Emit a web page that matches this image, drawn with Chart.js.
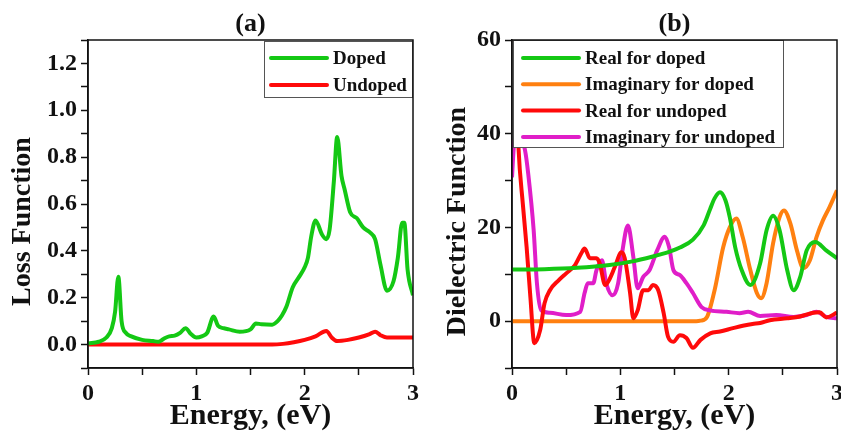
<!DOCTYPE html>
<html>
<head>
<meta charset="utf-8">
<title>Loss and dielectric function</title>
<script src="https://cdn.jsdelivr.net/npm/chart.js@4.4.1/dist/chart.umd.min.js"></script>
<style>
  html, body { margin: 0; padding: 0; background: #fff; }
  .wrap { position: relative; width: 841px; height: 434px; }
  canvas { position: absolute; top: 0; }
  #lossChart { left: 0; }
  #dielChart { left: 420px; }
</style>
</head>
<body>
<div class="wrap">
  <canvas id="lossChart" width="420" height="434"></canvas>
  <canvas id="dielChart" width="421" height="434"></canvas>
</div>
<script>
// (a) loss function
const lossDopedX = [0, 0.1, 0.17, 0.22, 0.25, 0.28, 0.31, 0.35, 0.4, 0.5, 0.6, 0.65, 0.7, 0.75, 0.8, 0.85, 0.9, 0.95, 1.0, 1.05, 1.1, 1.16, 1.2, 1.25, 1.3, 1.4, 1.5, 1.55, 1.6, 1.7, 1.75, 1.79, 1.83, 1.89, 1.95, 2.0, 2.03, 2.06, 2.1, 2.16, 2.2, 2.23, 2.27, 2.3, 2.34, 2.37, 2.42, 2.48, 2.54, 2.6, 2.65, 2.7, 2.76, 2.82, 2.86, 2.9, 2.92, 2.95, 3.0];
const lossDoped = [0.005, 0.012, 0.03, 0.07, 0.14, 0.29, 0.1, 0.05, 0.035, 0.02, 0.015, 0.012, 0.025, 0.035, 0.038, 0.05, 0.07, 0.045, 0.03, 0.035, 0.05, 0.12, 0.08, 0.07, 0.065, 0.055, 0.065, 0.09, 0.087, 0.085, 0.1, 0.124, 0.16, 0.245, 0.29, 0.33, 0.37, 0.46, 0.53, 0.47, 0.45, 0.49, 0.7, 0.886, 0.72, 0.66, 0.565, 0.54, 0.5, 0.48, 0.45, 0.34, 0.23, 0.27, 0.37, 0.52, 0.52, 0.32, 0.21];
const lossUndopedX = [0, 1.0, 1.7, 1.8, 1.9, 2.0, 2.1, 2.2, 2.25, 2.3, 2.4, 2.5, 2.6, 2.65, 2.7, 2.76, 2.85, 3.0];
const lossUndoped = [0, 0, 0, 0.003, 0.01, 0.02, 0.035, 0.058, 0.03, 0.015, 0.02, 0.03, 0.045, 0.055, 0.04, 0.03, 0.03, 0.03];

// (b) dielectric function
const realDopedX = [0, 0.3, 0.6, 0.9, 1.1, 1.3, 1.45, 1.55, 1.67, 1.77, 1.83, 1.87, 1.92, 1.97, 2.01, 2.06, 2.12, 2.2, 2.29, 2.35, 2.41, 2.47, 2.54, 2.6, 2.66, 2.72, 2.8, 2.9, 3.0];
const realDoped = [11.0, 11.1, 11.4, 12.0, 12.7, 13.8, 14.8, 15.7, 17.4, 20.5, 24.0, 26.2, 27.5, 25.8, 22.2, 15.8, 10.9, 7.7, 12.3, 19.4, 22.5, 19.4, 10.9, 6.6, 9.4, 15.1, 16.9, 15.1, 13.4];
const imagDopedX = [0, 1.0, 1.7, 1.74, 1.8, 1.87, 1.95, 2.01, 2.07, 2.13, 2.2, 2.26, 2.3, 2.35, 2.41, 2.47, 2.51, 2.57, 2.63, 2.69, 2.75, 2.81, 2.87, 2.93, 3.0];
const imagDoped = [0, 0, 0, 0.1, 0.9, 6.6, 15.8, 20, 21.9, 17.9, 10.9, 6.0, 4.9, 8.1, 16.6, 22.2, 23.6, 20.8, 15.1, 11.3, 13, 17.9, 21.5, 24.3, 27.9];
const realUndopedX = [0, 0.03, 0.06, 0.1, 0.135, 0.17, 0.206, 0.26, 0.3, 0.35, 0.43, 0.5, 0.58, 0.64, 0.67, 0.72, 0.78, 0.81, 0.86, 0.89, 0.95, 1.01, 1.04, 1.09, 1.12, 1.16, 1.21, 1.26, 1.3, 1.35, 1.4, 1.44, 1.49, 1.55, 1.61, 1.67, 1.74, 1.83, 1.92, 2.04, 2.13, 2.22, 2.29, 2.38, 2.54, 2.66, 2.78, 2.84, 2.9, 3.0];
const realUndoped = [75, 58, 37, 25, 15.8, 5, -4.7, -1.9, 3.8, 6.6, 8.7, 10.2, 11.9, 14.5, 15.5, 13.4, 13.4, 12.3, 7.7, 8.5, 11.6, 14.7, 13.5, 6, 0.6, 2.3, 6.6, 6.6, 7.7, 6.6, 1.7, -3.3, -4.4, -3, -3.6, -5.7, -4, -2.6, -2.2, -1.5, -1, -0.6, -0.4, 0.2, 0.6, 1.0, 1.8, 1.9, 0.8, 1.8];
const imagUndopedX = [0, 0.02, 0.06, 0.12, 0.15, 0.2, 0.23, 0.27, 0.35, 0.5, 0.63, 0.67, 0.7, 0.75, 0.78, 0.83, 0.87, 0.93, 0.98, 1.02, 1.07, 1.12, 1.16, 1.21, 1.27, 1.34, 1.41, 1.45, 1.49, 1.55, 1.61, 1.67, 1.75, 1.83, 1.98, 2.1, 2.18, 2.29, 2.44, 2.6, 2.72, 2.81, 2.9, 3.0];
const imagUndoped = [30.7, 38, 40, 36.5, 31.4, 19.4, 8.1, 2.3, 1.8, 1.3, 2, 6, 8.1, 8.1, 10.9, 13, 8.1, 5.5, 8.1, 15.1, 20.4, 13.7, 7, 9.4, 10.9, 15.1, 18, 15.8, 10.9, 9.8, 8.1, 6, 3, 2.3, 2, 1.7, 2, 1.1, 1.3, 0.9, 1.3, 2, 0.9, 0.6];

const energyTicks = [0, 0.5, 1, 1.5, 2, 2.5, 3];
const lossTicks = [-0.1, 0, 0.1, 0.2, 0.3, 0.4, 0.5, 0.6, 0.7, 0.8, 0.9, 1.0, 1.1, 1.2, 1.3];
const dielTicks = [-10, 0, 10, 20, 30, 40, 50, 60];

const GREEN = '#14c814', RED = '#ff0a0a', ORANGE = '#ff8010', MAGENTA = '#e01ec8';

Chart.defaults.font.family = "'Liberation Serif', 'Times New Roman', serif";
Chart.defaults.color = '#000';

const pts = (xs, ys) => xs.map((x, i) => ({ x, y: ys[i] }));

function line(label, xs, ys, color) {
  return {
    label, data: pts(xs, ys), borderColor: color, backgroundColor: color,
    borderWidth: 4, pointRadius: 0, cubicInterpolationMode: 'monotone', fill: false
  };
}

// box around the plot
const frame = {
  id: 'frame',
  afterDraw(chart) {
    const { ctx, chartArea: a } = chart;
    ctx.save();
    ctx.strokeStyle = '#111';
    ctx.lineWidth = 1.5;
    ctx.strokeRect(a.left, a.top, a.right - a.left, a.bottom - a.top);
    ctx.restore();
  }
};

// legend drawn as a white box inside the plot
const boxLegend = {
  id: 'boxLegend',
  afterDatasetsDraw(chart, args, o) {
    const { ctx, chartArea: a } = chart;
    const left = o.fromRight ? a.right - o.w : a.left + o.dx;
    const top = a.top + o.dy;
    ctx.save();
    ctx.fillStyle = '#fff';
    ctx.fillRect(left, top, o.w, o.h);
    ctx.strokeStyle = '#555';
    ctx.lineWidth = 1;
    ctx.strokeRect(left + 0.5, top + 0.5, o.w - 1, o.h - 1);
    ctx.font = "bold 19px 'Liberation Serif', 'Times New Roman', serif";
    ctx.textBaseline = 'middle';
    o.order.forEach((di, i) => {
      const ds = chart.data.datasets[di];
      const y = top + o.row0 + i * o.rowH;
      ctx.strokeStyle = ds.borderColor;
      ctx.lineWidth = 4;
      ctx.lineCap = 'round';
      ctx.beginPath();
      ctx.moveTo(left + o.lx, y);
      ctx.lineTo(left + o.lx + 56, y);
      ctx.stroke();
      ctx.fillStyle = '#111';
      ctx.fillText(ds.label, left + o.lx + 62, y + 1);
    });
    ctx.restore();
  }
};

function axes(yTicks, yMin, yMax, yLabel, yWidth, yTitlePad, yFmt) {
  const gridOpts = { drawOnChartArea: false, drawTicks: true, tickLength: 7, tickColor: '#111', tickWidth: 1.5 };
  const border = { display: true, color: '#111', width: 1.5 };
  const tickFont = { size: 24, weight: 'bold' };
  return {
    x: {
      type: 'linear', min: 0, max: 3,
      grid: gridOpts, border,
      afterBuildTicks: (s) => { s.ticks = energyTicks.map((v) => ({ value: v })); },
      afterFit: (s) => { s.height = 66; s.paddingLeft = 0; s.paddingRight = 0; },
      ticks: {
        autoSkip: false, maxRotation: 0, padding: 4, font: tickFont, color: '#111',
        callback: (v) => (Math.abs(v - Math.round(v)) < 1e-6 ? String(Math.round(v)) : '')
      },
      title: { display: true, text: 'Energy, (eV)', font: { size: 30, weight: 'bold' }, color: '#111', padding: { top: 0, bottom: 0 } }
    },
    y: {
      type: 'linear', min: yMin, max: yMax,
      grid: gridOpts, border,
      afterBuildTicks: (s) => { s.ticks = yTicks.map((v) => ({ value: v })); },
      afterFit: (s) => { s.width = yWidth; s.paddingTop = 0; s.paddingBottom = 0; },
      ticks: { autoSkip: false, padding: 4, font: tickFont, color: '#111', callback: yFmt },
      // trailing spaces push the rotated label a little below the axis middle
      title: { display: true, text: yLabel + '     ', font: { size: 28, weight: 'bold' }, color: '#111', padding: { top: yTitlePad, bottom: 0 } }
    }
  };
}

function titleOpts(text) {
  return {
    display: true, text, fullSize: false, color: '#111',
    font: { size: 26, weight: 'bold', lineHeight: 1 },
    padding: { top: 11, bottom: 3 }
  };
}

new Chart(document.getElementById('lossChart'), {
  type: 'line',
  data: {
    datasets: [
      line('Doped', lossDopedX, lossDoped, GREEN),
      line('Undoped', lossUndopedX, lossUndoped, RED)
    ]
  },
  options: {
    responsive: false, animation: false, events: [],
    layout: { padding: { left: 0, right: 7, top: 0, bottom: 0 } },
    scales: axes(lossTicks, -0.1, 1.3, 'Loss Function', 88, 6,
      (v) => (Math.abs(Math.round(v * 10)) % 2 === 0 ? v.toFixed(1) : '')),
    plugins: {
      legend: { display: false },
      tooltip: { enabled: false },
      title: titleOpts('(a)'),
      boxLegend: { fromRight: true, w: 149, h: 57, dy: 1, lx: 7, row0: 17, rowH: 27, order: [0, 1] }
    }
  },
  plugins: [boxLegend, frame]
});

new Chart(document.getElementById('dielChart'), {
  type: 'line',
  data: {
    datasets: [
      line('Real for doped', realDopedX, realDoped, GREEN),
      line('Real for undoped', realUndopedX, realUndoped, RED),
      line('Imaginary for undoped', imagUndopedX, imagUndoped, MAGENTA),
      line('Imaginary for doped', imagDopedX, imagDoped, ORANGE)
    ]
  },
  options: {
    responsive: false, animation: false, events: [],
    layout: { padding: { left: 0, right: 4, top: 0, bottom: 0 } },
    scales: axes(dielTicks, -10, 60, 'Dielectric Function', 92, 21,
      (v) => (v % 20 === 0 ? String(v) : '')),
    plugins: {
      legend: { display: false },
      tooltip: { enabled: false },
      title: titleOpts('(b)'),
      boxLegend: { fromRight: false, dx: 1, w: 271, h: 108, dy: 0, lx: 10, row0: 18, rowH: 26.3, order: [0, 3, 1, 2] }
    }
  },
  plugins: [boxLegend, frame]
});
</script>
</body>
</html>
